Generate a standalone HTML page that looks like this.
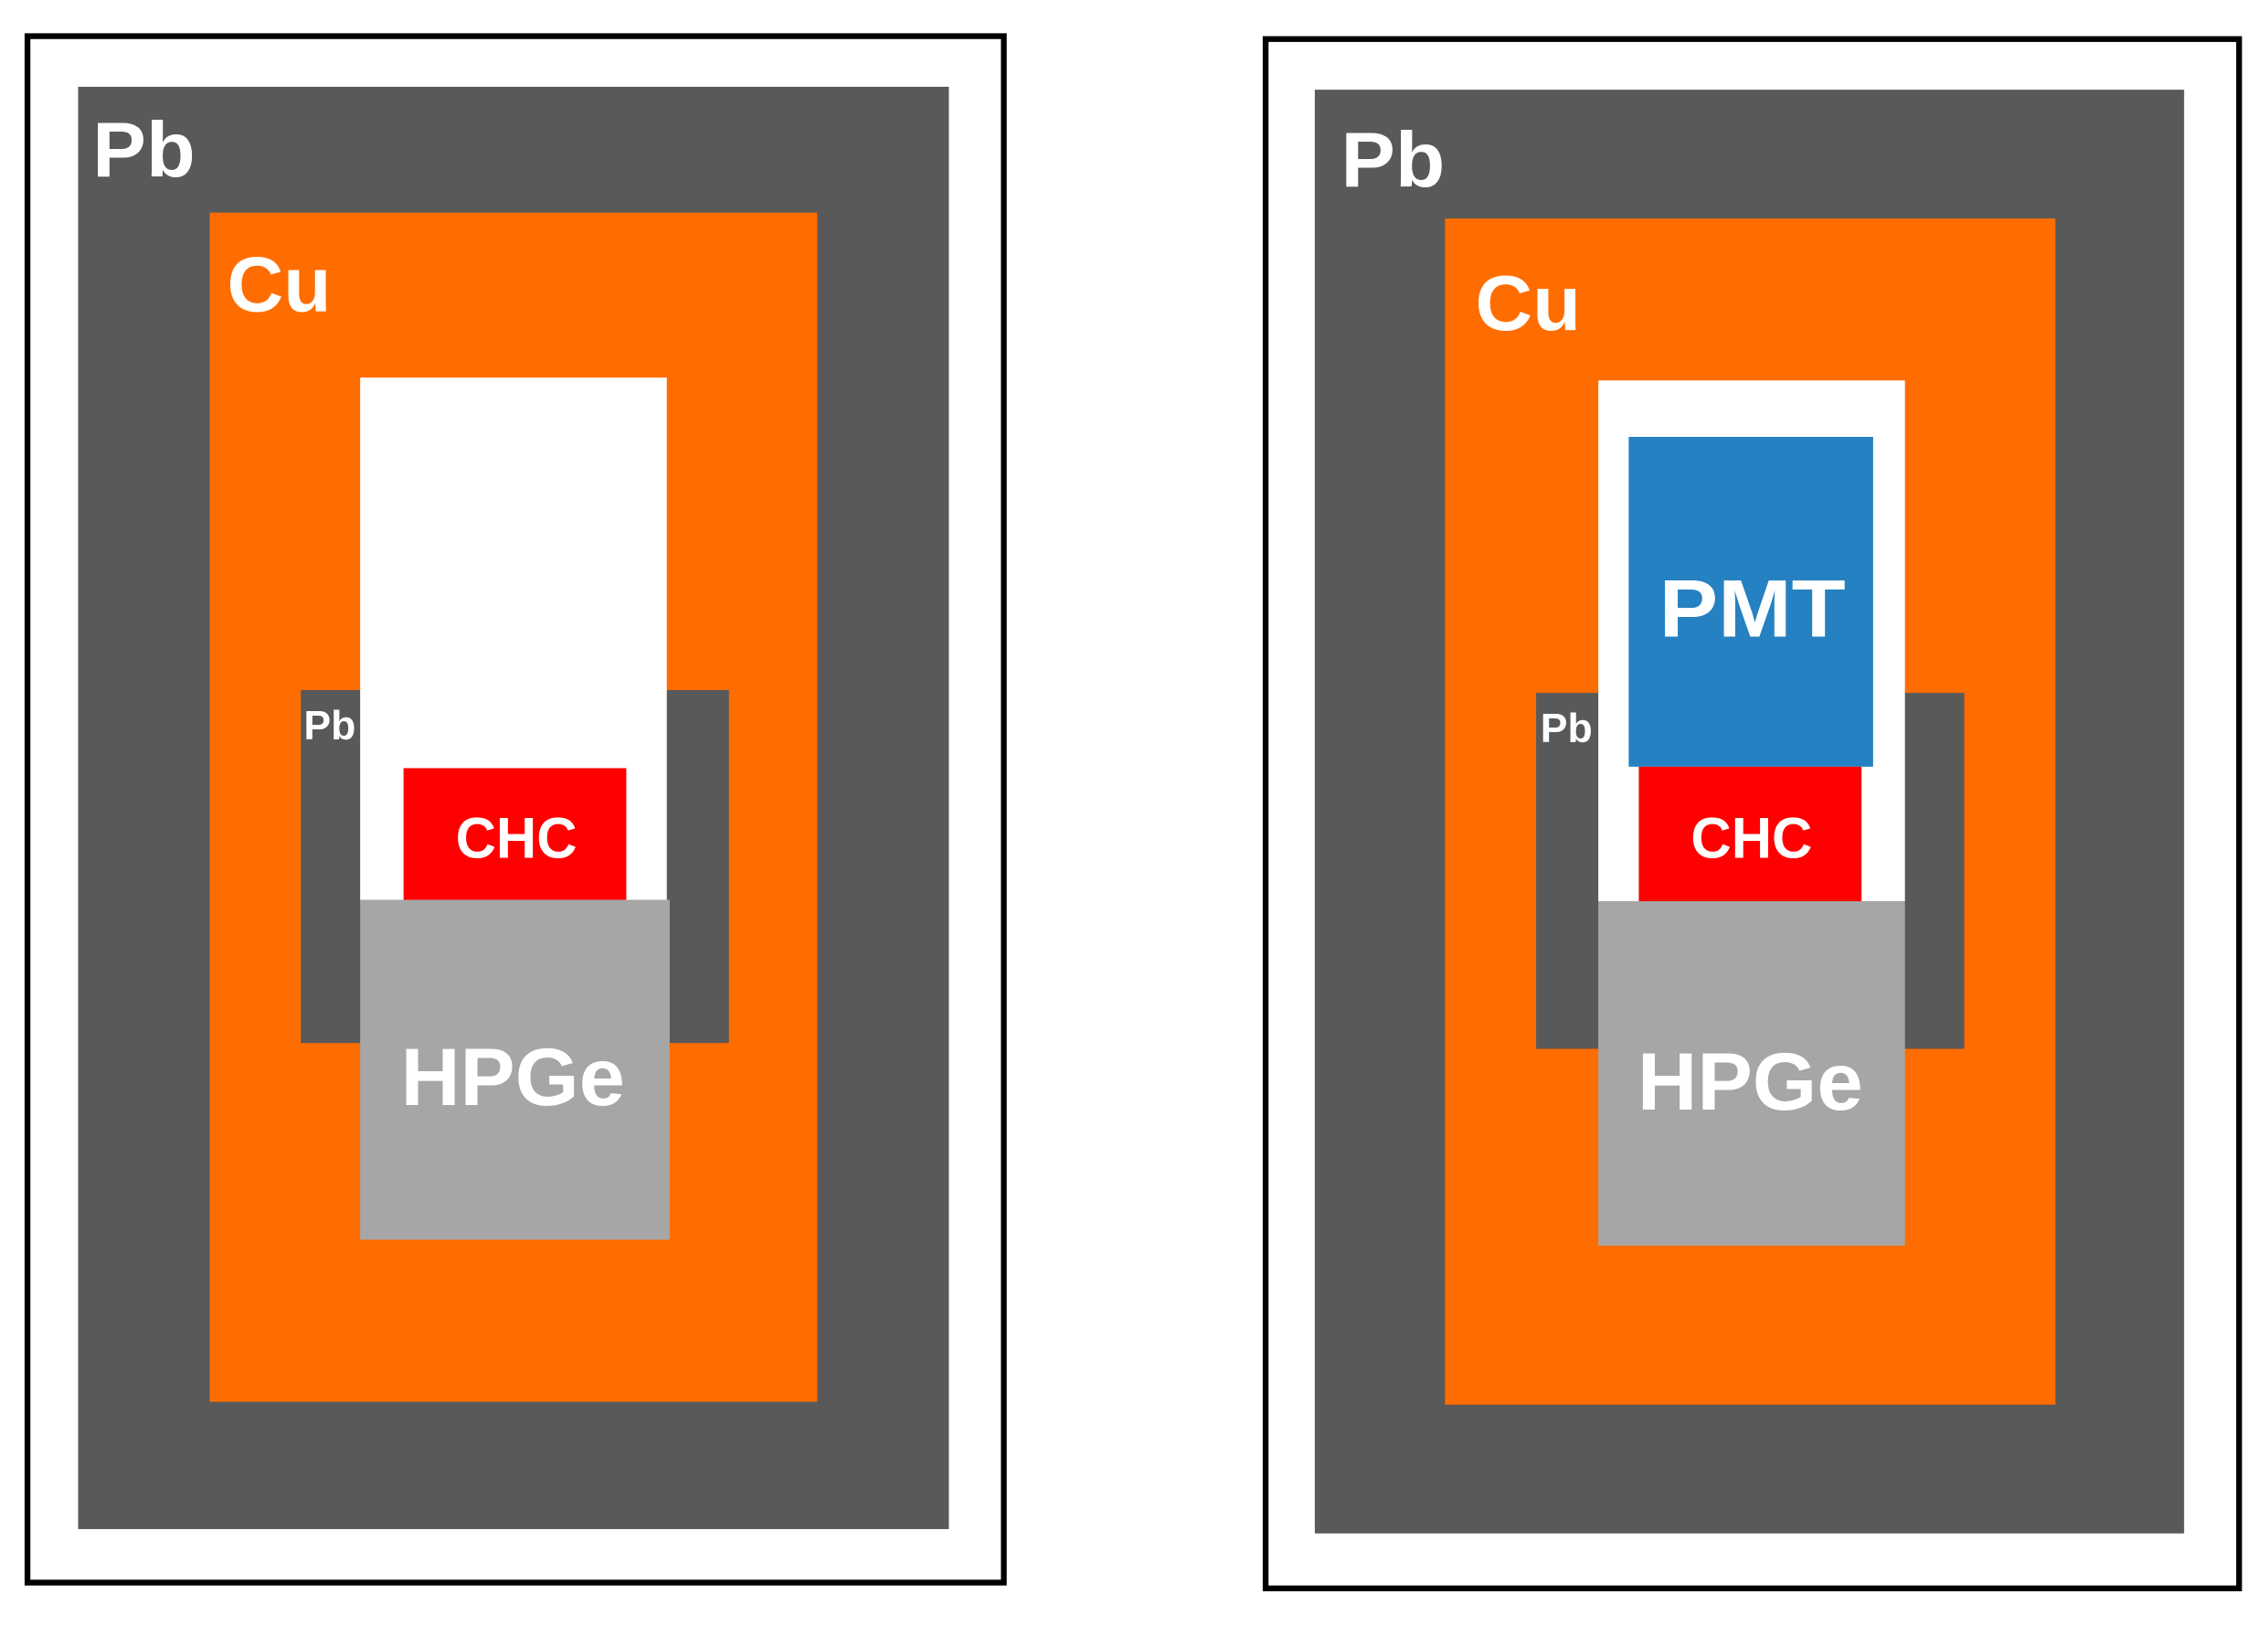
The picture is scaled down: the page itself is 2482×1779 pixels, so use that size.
<!DOCTYPE html>
<html><head><meta charset="utf-8"><style>html,body{margin:0;padding:0;background:#fff}svg{display:block}</style></head>
<body>
<svg width="2482" height="1779" viewBox="0 0 1568 1124" preserveAspectRatio="none" xmlns="http://www.w3.org/2000/svg" font-family="'Liberation Sans', sans-serif" font-weight="bold" fill="#fff">
<rect x="0" y="0" width="1568" height="1124" fill="#fff"/>
<!-- Left -->
<rect x="19" y="25" width="675" height="1069" fill="#fff" stroke="#000" stroke-width="4"/>
<rect x="54" y="60" width="602" height="997" fill="#595959"/>
<rect x="145" y="147" width="420" height="822" fill="#ff6d00"/>
<rect x="208" y="477" width="296" height="244" fill="#595959"/>
<rect x="249" y="261" width="212" height="362" fill="#fff"/>
<rect x="279" y="531" width="154" height="92" fill="#ff0000"/>
<rect x="249" y="622" width="214" height="235" fill="#a6a6a6"/>
<text x="64" y="122" font-size="54" textLength="71" lengthAdjust="spacingAndGlyphs">Pb</text>
<text x="157" y="215" font-size="54" textLength="72" lengthAdjust="spacingAndGlyphs">Cu</text>
<text x="210" y="511" font-size="28" textLength="36" lengthAdjust="spacingAndGlyphs">Pb</text>
<text x="315" y="593" font-size="40" textLength="84" lengthAdjust="spacingAndGlyphs">CHC</text>
<text x="277" y="764" font-size="56" textLength="155" lengthAdjust="spacingAndGlyphs">HPGe</text>
<!-- Right -->
<rect x="875" y="27" width="673" height="1071" fill="#fff" stroke="#000" stroke-width="4"/>
<rect x="909" y="62" width="601" height="998" fill="#595959"/>
<rect x="999" y="151" width="422" height="820" fill="#ff6d00"/>
<rect x="1062" y="479" width="296" height="246" fill="#595959"/>
<rect x="1105" y="263" width="212" height="360" fill="#fff"/>
<rect x="1126" y="302" width="169" height="228" fill="#2581c1"/>
<rect x="1133" y="530" width="154" height="93" fill="#ff0000"/>
<rect x="1105" y="623" width="212" height="238" fill="#a6a6a6"/>
<text x="927" y="129" font-size="54" textLength="72" lengthAdjust="spacingAndGlyphs">Pb</text>
<text x="1020" y="228" font-size="54" textLength="73" lengthAdjust="spacingAndGlyphs">Cu</text>
<text x="1065" y="513" font-size="28" textLength="36" lengthAdjust="spacingAndGlyphs">Pb</text>
<text x="1147" y="440" font-size="56" textLength="129" lengthAdjust="spacingAndGlyphs">PMT</text>
<text x="1169" y="593" font-size="40" textLength="84" lengthAdjust="spacingAndGlyphs">CHC</text>
<text x="1132" y="767" font-size="56" textLength="156" lengthAdjust="spacingAndGlyphs">HPGe</text>
</svg>
</body></html>
